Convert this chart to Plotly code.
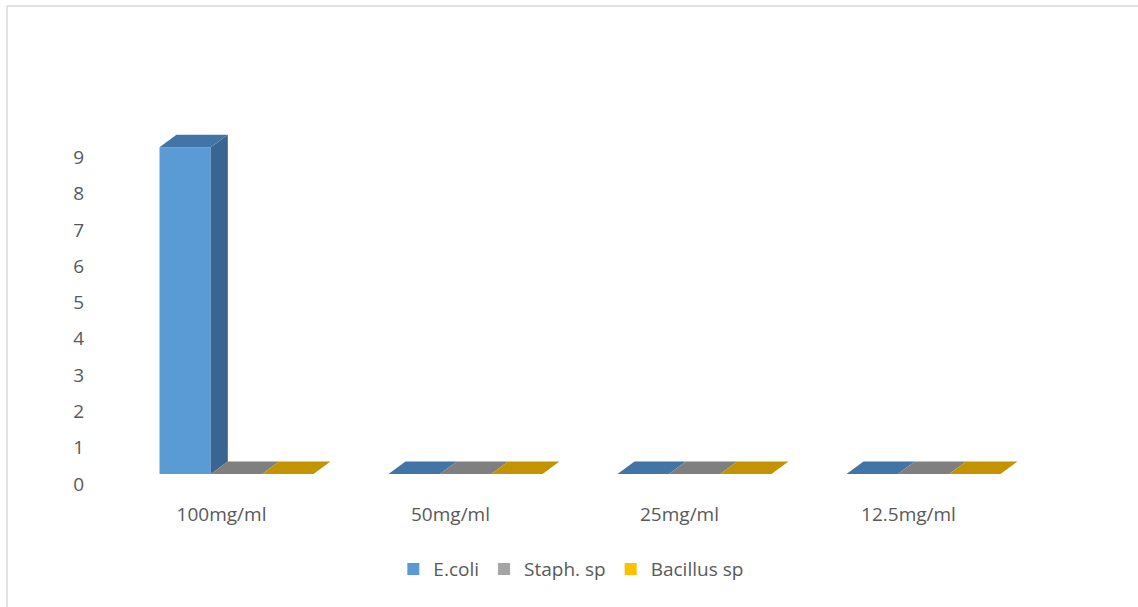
import plotly.graph_objects as go

categories = ["100mg/ml", "50mg/ml", "25mg/ml", "12.5mg/ml"]
series_names = ["E.coli", "Staph. sp", "Bacillus sp"]
ecoli = [9, 0, 0, 0]
staph = [0, 0, 0, 0]
bacillus = [0, 0, 0, 0]
y_ticks = [0, 1, 2, 3, 4, 5, 6, 7, 8, 9]

front_colors = ["#5B9BD5", "#A5A5A5", "#FFC000"]
top_colors = ["#4275A6", "#7F7F7F", "#C29400"]
side_colors = ["#3A6590", "#7C7C7C", "#BF9000"]

values = [ecoli, staph, bacillus]
xs = list(range(len(categories)))

BARGAP = 0.3275
n = len(values)
bar_w = (1 - BARGAP) / n
DX = 0.0742   # depth in category units
DY = 0.344    # depth in value units

fig = go.Figure()
for name, vals, col in zip(series_names, values, front_colors):
    fig.add_trace(go.Bar(x=xs, y=vals, name=name, marker=dict(color=col, line=dict(width=0))))

shapes = []
for i, vals in enumerate(values):
    for j, v in enumerate(vals):
        left = j - (1 - BARGAP) / 2 + i * bar_w
        right = left + bar_w
        if v > 0:
            shapes.append(dict(type="path", xref="x", yref="y",
                               path=f"M{right},0 L{right},{v} L{right+DX},{v+DY} L{right+DX},{DY} Z",
                               fillcolor=side_colors[i], line=dict(width=0)))
        shapes.append(dict(type="path", xref="x", yref="y",
                           path=f"M{left},{v} L{right},{v} L{right+DX},{v+DY} L{left+DX},{v+DY} Z",
                           fillcolor=top_colors[i], line=dict(width=0)))

# outer chart border (top and left)
shapes.append(dict(type="line", xref="paper", yref="paper", x0=-0.1255, x1=1.12, y0=1.289, y1=1.289,
                   line=dict(color="#D9D9D9", width=1.5)))
shapes.append(dict(type="line", xref="paper", yref="paper", x0=-0.1255, x1=-0.1255, y0=1.289, y1=-0.4,
                   line=dict(color="#D9D9D9", width=1.5)))

font = dict(family="Open Sans", size=19, color="#595959")
fig.update_layout(
    width=1138, height=607,
    margin=dict(l=122, r=100, t=111, b=133),
    paper_bgcolor="white", plot_bgcolor="white",
    barmode="group", bargap=BARGAP, bargroupgap=0,
    shapes=shapes,
    font=font,
    showlegend=True,
    legend=dict(orientation="h", x=0.49, xanchor="center", y=-0.262, yanchor="middle",
                itemwidth=30,
                font=dict(family="Open Sans", size=19, color="#595959")),
    xaxis=dict(range=[-0.5, len(categories) - 0.5], tickvals=xs, ticktext=categories,
               showgrid=False, zeroline=False, showline=False, ticks="",
               ticklabelstandoff=27, ticklabelshift=-15, tickfont=font),
    yaxis=dict(range=[0, 10], tickvals=y_ticks, showgrid=False, zeroline=False, showline=False,
               ticks="", ticklabelstandoff=37, ticklabelshift=10, tickfont=font),
)
fig.write_html("out.html")
